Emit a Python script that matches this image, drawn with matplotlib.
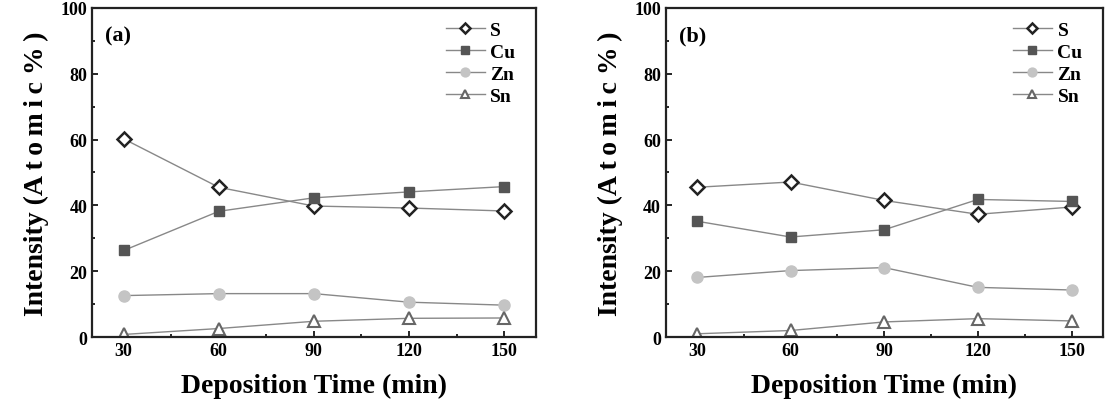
import matplotlib
matplotlib.use("Agg")
import matplotlib.pyplot as plt
from matplotlib.ticker import MultipleLocator

plt.rcParams['font.family'] = ['Liberation Serif', 'DejaVu Serif']
plt.rcParams['font.weight'] = 'bold'

time = [30, 60, 90, 120, 150]
xticks = [30, 60, 90, 120, 150]
yticks = [0, 20, 40, 60, 80, 100]

S_a = [60.2, 45.5, 39.8, 39.2, 38.3]
Cu_a = [26.3, 38.2, 42.3, 44.1, 45.7]
Zn_a = [12.6, 13.2, 13.2, 10.6, 9.7]
Sn_a = [0.8, 2.6, 4.8, 5.7, 5.8]

S_b = [45.5, 47.1, 41.5, 37.3, 39.5]
Cu_b = [35.2, 30.4, 32.6, 41.8, 41.2]
Zn_b = [18.1, 20.2, 21.1, 15.1, 14.3]
Sn_b = [1.0, 2.0, 4.6, 5.6, 4.9]

labels = ['S', 'Cu', 'Zn', 'Sn']
panels = ['(a)', '(b)']

styles = [
    dict(marker='D', markersize=7, markerfacecolor='white', markeredgecolor='#222222', markeredgewidth=1.8),
    dict(marker='s', markersize=7, markerfacecolor='#555555', markeredgecolor='#555555'),
    dict(marker='o', markersize=8, markerfacecolor='#c4c4c4', markeredgecolor='#c4c4c4'),
    dict(marker='^', markersize=8, markerfacecolor='white', markeredgecolor='#666666', markeredgewidth=1.5),
]

fig = plt.figure(figsize=(11.15, 4.02), dpi=100)
axes = [fig.add_axes([0.0825, 0.159, 0.398, 0.819]),
        fig.add_axes([0.597, 0.159, 0.392, 0.819])]

data = [[S_a, Cu_a, Zn_a, Sn_a], [S_b, Cu_b, Zn_b, Sn_b]]
ts = '\u2009'
ylabel = 'Intensity (' + ts.join('Atomic') + ' %' + ts + ')'

for ax, series, pl in zip(axes, data, panels):
    for vals, lab, st in zip(series, labels, styles):
        ax.plot(time, vals, color='#888888', linewidth=1.0, label=lab, **st)
    ax.set_xlim(20, 160)
    ax.set_ylim(0, 100)
    ax.set_xticks(xticks)
    ax.set_yticks(yticks)
    ax.xaxis.set_minor_locator(MultipleLocator(15))
    ax.yaxis.set_minor_locator(MultipleLocator(10))
    ax.tick_params(which='both', direction='in', labelsize=13, width=1.2)
    ax.tick_params(which='major', length=4)
    ax.tick_params(which='minor', length=2.5)
    for lbl in ax.get_xticklabels() + ax.get_yticklabels():
        lbl.set_fontweight('bold')
    for sp in ax.spines.values():
        sp.set_linewidth(1.6)
        sp.set_color('#222222')
    ax.set_xlabel('Deposition Time (min)', fontsize=20, fontweight='bold', labelpad=10)
    ax.set_ylabel(ylabel, fontsize=20, fontweight='bold', labelpad=8)
    ax.text(0.03, 0.915, pl, transform=ax.transAxes, fontsize=16, fontweight='bold', va='center')
    leg = ax.legend(loc='upper right', frameon=False, prop={'weight': 'bold', 'size': 14},
                    handlelength=2.0, handletextpad=0.3, labelspacing=0.22,
                    borderaxespad=0.3, bbox_to_anchor=(0.985, 1.0), markerscale=0.8)

fig.savefig('out.png', dpi=100)
